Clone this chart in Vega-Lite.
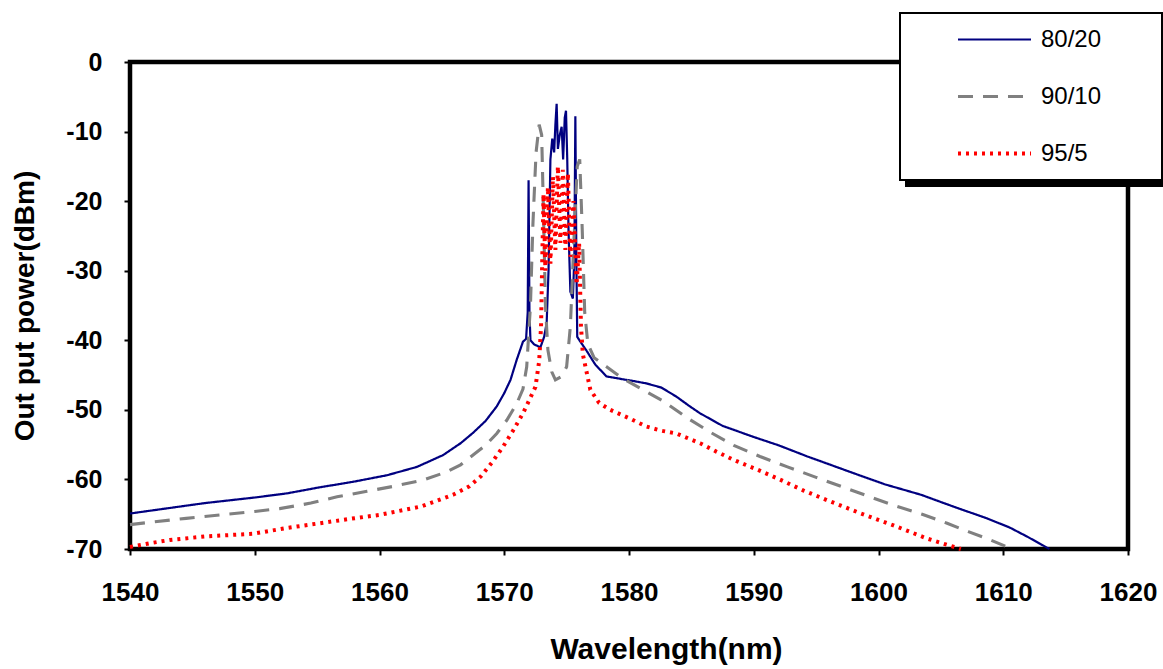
{
  "$schema": "https://vega.github.io/schema/vega-lite/v6.json",
  "width": 998,
  "height": 487,
  "autosize": {"type": "none"},
  "padding": {"left": 130, "top": 62, "right": 35, "bottom": 120},
  "background": "white",
  "config": {
    "font": "Liberation Sans",
    "view": {"stroke": "black", "strokeWidth": 4.5},
    "axis": {"domain": false, "grid": false, "tickColor": "black", "tickWidth": 2, "tickSize": 6, "labelColor": "black", "titleColor": "black", "labelFontWeight": "bold", "titleFontWeight": "bold"}
  },
  "data": {"values": [
    {"w":1540,"p":-64.9,"s":"80/20"},{"w":1542,"p":-64.4,"s":"80/20"},{"w":1544,"p":-63.9,"s":"80/20"},{"w":1546,"p":-63.4,"s":"80/20"},{"w":1548,"p":-63.0,"s":"80/20"},{"w":1550,"p":-62.6,"s":"80/20"},{"w":1552.6,"p":-62.0,"s":"80/20"},{"w":1555,"p":-61.2,"s":"80/20"},{"w":1558,"p":-60.3,"s":"80/20"},{"w":1560.6,"p":-59.4,"s":"80/20"},{"w":1563,"p":-58.2,"s":"80/20"},{"w":1565.1,"p":-56.5,"s":"80/20"},{"w":1566.5,"p":-54.8,"s":"80/20"},{"w":1567.5,"p":-53.3,"s":"80/20"},{"w":1568.5,"p":-51.6,"s":"80/20"},{"w":1569.4,"p":-49.5,"s":"80/20"},{"w":1570.0,"p":-47.6,"s":"80/20"},{"w":1570.5,"p":-45.7,"s":"80/20"},{"w":1571.0,"p":-42.8,"s":"80/20"},{"w":1571.5,"p":-40.2,"s":"80/20"},{"w":1571.75,"p":-39.8,"s":"80/20"},{"w":1571.88,"p":-36,"s":"80/20"},{"w":1571.95,"p":-17,"s":"80/20"},{"w":1572.02,"p":-36,"s":"80/20"},{"w":1572.1,"p":-40,"s":"80/20"},{"w":1572.4,"p":-40.6,"s":"80/20"},{"w":1572.9,"p":-41,"s":"80/20"},{"w":1573.2,"p":-39.5,"s":"80/20"},{"w":1573.4,"p":-37.5,"s":"80/20"},{"w":1573.55,"p":-30,"s":"80/20"},{"w":1573.7,"p":-14,"s":"80/20"},{"w":1573.85,"p":-11,"s":"80/20"},{"w":1574.0,"p":-13,"s":"80/20"},{"w":1574.1,"p":-9,"s":"80/20"},{"w":1574.2,"p":-6,"s":"80/20"},{"w":1574.3,"p":-12.5,"s":"80/20"},{"w":1574.45,"p":-10.5,"s":"80/20"},{"w":1574.6,"p":-9.3,"s":"80/20"},{"w":1574.72,"p":-14,"s":"80/20"},{"w":1574.85,"p":-8,"s":"80/20"},{"w":1574.95,"p":-7,"s":"80/20"},{"w":1575.05,"p":-14,"s":"80/20"},{"w":1575.15,"p":-24,"s":"80/20"},{"w":1575.3,"p":-33,"s":"80/20"},{"w":1575.5,"p":-34,"s":"80/20"},{"w":1575.62,"p":-28,"s":"80/20"},{"w":1575.7,"p":-7.8,"s":"80/20"},{"w":1575.78,"p":-28,"s":"80/20"},{"w":1575.85,"p":-39.5,"s":"80/20"},{"w":1576.1,"p":-40.2,"s":"80/20"},{"w":1576.6,"p":-41.5,"s":"80/20"},{"w":1577.3,"p":-43.5,"s":"80/20"},{"w":1578.2,"p":-45.2,"s":"80/20"},{"w":1579.5,"p":-45.6,"s":"80/20"},{"w":1580.5,"p":-45.9,"s":"80/20"},{"w":1581.4,"p":-46.2,"s":"80/20"},{"w":1582.6,"p":-46.8,"s":"80/20"},{"w":1583.8,"p":-48.1,"s":"80/20"},{"w":1584.8,"p":-49.4,"s":"80/20"},{"w":1585.7,"p":-50.5,"s":"80/20"},{"w":1587.5,"p":-52.3,"s":"80/20"},{"w":1590.0,"p":-53.9,"s":"80/20"},{"w":1592.0,"p":-55.1,"s":"80/20"},{"w":1594.3,"p":-56.7,"s":"80/20"},{"w":1596,"p":-57.8,"s":"80/20"},{"w":1598.0,"p":-59.1,"s":"80/20"},{"w":1600.5,"p":-60.7,"s":"80/20"},{"w":1603.4,"p":-62.2,"s":"80/20"},{"w":1606,"p":-63.9,"s":"80/20"},{"w":1608.7,"p":-65.6,"s":"80/20"},{"w":1610.5,"p":-66.9,"s":"80/20"},{"w":1611.9,"p":-68.2,"s":"80/20"},{"w":1613.0,"p":-69.3,"s":"80/20"},{"w":1613.7,"p":-70,"s":"80/20"},
    {"w":1540,"p":-66.5,"s":"90/10"},{"w":1541.9,"p":-66.1,"s":"90/10"},{"w":1544.5,"p":-65.6,"s":"90/10"},{"w":1547.2,"p":-65.1,"s":"90/10"},{"w":1550,"p":-64.6,"s":"90/10"},{"w":1552,"p":-64.2,"s":"90/10"},{"w":1554.5,"p":-63.4,"s":"90/10"},{"w":1556.6,"p":-62.5,"s":"90/10"},{"w":1559,"p":-61.7,"s":"90/10"},{"w":1561.1,"p":-61.0,"s":"90/10"},{"w":1563.5,"p":-60.1,"s":"90/10"},{"w":1565.4,"p":-58.9,"s":"90/10"},{"w":1566.5,"p":-57.9,"s":"90/10"},{"w":1567.5,"p":-56.5,"s":"90/10"},{"w":1568.5,"p":-55.1,"s":"90/10"},{"w":1569.4,"p":-53.4,"s":"90/10"},{"w":1570.2,"p":-51.5,"s":"90/10"},{"w":1571.0,"p":-49.1,"s":"90/10"},{"w":1571.5,"p":-47,"s":"90/10"},{"w":1571.8,"p":-43.8,"s":"90/10"},{"w":1572.1,"p":-35,"s":"90/10"},{"w":1572.3,"p":-23.2,"s":"90/10"},{"w":1572.55,"p":-13,"s":"90/10"},{"w":1572.8,"p":-9,"s":"90/10"},{"w":1573.0,"p":-10.5,"s":"90/10"},{"w":1573.15,"p":-22,"s":"90/10"},{"w":1573.3,"p":-35,"s":"90/10"},{"w":1573.5,"p":-41.4,"s":"90/10"},{"w":1573.8,"p":-44.5,"s":"90/10"},{"w":1574.1,"p":-45.7,"s":"90/10"},{"w":1574.6,"p":-45.2,"s":"90/10"},{"w":1575.0,"p":-43.8,"s":"90/10"},{"w":1575.3,"p":-38,"s":"90/10"},{"w":1575.6,"p":-25,"s":"90/10"},{"w":1575.85,"p":-15,"s":"90/10"},{"w":1576.05,"p":-14,"s":"90/10"},{"w":1576.25,"p":-24,"s":"90/10"},{"w":1576.45,"p":-36,"s":"90/10"},{"w":1576.7,"p":-40.5,"s":"90/10"},{"w":1577.2,"p":-42.5,"s":"90/10"},{"w":1578.2,"p":-43.8,"s":"90/10"},{"w":1579.5,"p":-45.5,"s":"90/10"},{"w":1580.9,"p":-46.9,"s":"90/10"},{"w":1582.8,"p":-48.8,"s":"90/10"},{"w":1584.7,"p":-51.2,"s":"90/10"},{"w":1586.5,"p":-53.2,"s":"90/10"},{"w":1588.4,"p":-55.1,"s":"90/10"},{"w":1590.5,"p":-56.7,"s":"90/10"},{"w":1592.7,"p":-58.2,"s":"90/10"},{"w":1595,"p":-59.7,"s":"90/10"},{"w":1597.0,"p":-61.0,"s":"90/10"},{"w":1599,"p":-62.3,"s":"90/10"},{"w":1601.2,"p":-63.7,"s":"90/10"},{"w":1603.5,"p":-65.0,"s":"90/10"},{"w":1605.5,"p":-66.3,"s":"90/10"},{"w":1607.2,"p":-67.5,"s":"90/10"},{"w":1608.7,"p":-68.5,"s":"90/10"},{"w":1610.3,"p":-69.7,"s":"90/10"},{"w":1610.7,"p":-70,"s":"90/10"},
    {"w":1540,"p":-69.7,"s":"95/5"},{"w":1541.5,"p":-69.2,"s":"95/5"},{"w":1543.2,"p":-68.7,"s":"95/5"},{"w":1546,"p":-68.2,"s":"95/5"},{"w":1549.9,"p":-67.8,"s":"95/5"},{"w":1552.5,"p":-67.0,"s":"95/5"},{"w":1555.2,"p":-66.3,"s":"95/5"},{"w":1557.5,"p":-65.7,"s":"95/5"},{"w":1560.0,"p":-65.1,"s":"95/5"},{"w":1563.3,"p":-63.9,"s":"95/5"},{"w":1565.9,"p":-62.2,"s":"95/5"},{"w":1567.2,"p":-61.0,"s":"95/5"},{"w":1568.1,"p":-59.6,"s":"95/5"},{"w":1569.0,"p":-57.6,"s":"95/5"},{"w":1569.9,"p":-55.3,"s":"95/5"},{"w":1570.7,"p":-53.0,"s":"95/5"},{"w":1571.5,"p":-50.5,"s":"95/5"},{"w":1572.0,"p":-48.6,"s":"95/5"},{"w":1572.5,"p":-46.7,"s":"95/5"},{"w":1572.8,"p":-43,"s":"95/5"},{"w":1572.95,"p":-38,"s":"95/5"},{"w":1573.05,"p":-28,"s":"95/5"},{"w":1573.15,"p":-19,"s":"95/5"},{"w":1573.3,"p":-30,"s":"95/5"},{"w":1573.5,"p":-18,"s":"95/5"},{"w":1573.7,"p":-29,"s":"95/5"},{"w":1573.9,"p":-16.5,"s":"95/5"},{"w":1574.1,"p":-27,"s":"95/5"},{"w":1574.3,"p":-15,"s":"95/5"},{"w":1574.5,"p":-26,"s":"95/5"},{"w":1574.7,"p":-15.5,"s":"95/5"},{"w":1574.9,"p":-27,"s":"95/5"},{"w":1575.1,"p":-16,"s":"95/5"},{"w":1575.3,"p":-28,"s":"95/5"},{"w":1575.55,"p":-20,"s":"95/5"},{"w":1575.8,"p":-32,"s":"95/5"},{"w":1576.0,"p":-26,"s":"95/5"},{"w":1576.15,"p":-38,"s":"95/5"},{"w":1576.3,"p":-42,"s":"95/5"},{"w":1576.9,"p":-47.1,"s":"95/5"},{"w":1577.6,"p":-49,"s":"95/5"},{"w":1578.5,"p":-50,"s":"95/5"},{"w":1580,"p":-51.2,"s":"95/5"},{"w":1581.4,"p":-52.4,"s":"95/5"},{"w":1582.6,"p":-53.0,"s":"95/5"},{"w":1583.8,"p":-53.4,"s":"95/5"},{"w":1585.7,"p":-54.8,"s":"95/5"},{"w":1587,"p":-56.0,"s":"95/5"},{"w":1588.4,"p":-57.2,"s":"95/5"},{"w":1590.3,"p":-58.6,"s":"95/5"},{"w":1592.2,"p":-60.1,"s":"95/5"},{"w":1594,"p":-61.6,"s":"95/5"},{"w":1595.9,"p":-63.0,"s":"95/5"},{"w":1598.6,"p":-64.9,"s":"95/5"},{"w":1601.2,"p":-66.6,"s":"95/5"},{"w":1603.9,"p":-68.5,"s":"95/5"},{"w":1605.5,"p":-69.4,"s":"95/5"},{"w":1606.6,"p":-70,"s":"95/5"}
  ]},
  "mark": {"type": "line", "strokeCap": "butt", "strokeJoin": "miter"},
  "encoding": {
    "x": {"field": "w", "type": "quantitative", "scale": {"domain": [1540, 1620], "nice": false, "zero": false},
      "axis": {"values": [1540,1550,1560,1570,1580,1590,1600,1610,1620], "labelExpr": "'' + datum.value", "labelFontSize": 26, "labelPadding": 24, "title": "Wavelength(nm)", "titleFontSize": 30, "titlePadding": 29, "titleX": 536, "labelFlush": false}},
    "y": {"field": "p", "type": "quantitative", "scale": {"domain": [-70, 0], "nice": false, "zero": false},
      "axis": {"values": [0,-10,-20,-30,-40,-50,-60,-70], "labelExpr": "'' + datum.value", "labelFontSize": 25, "labelPadding": 22, "title": "Out put power(dBm)", "titleFontSize": 28, "titlePadding": 26}},
    "color": {"field": "s", "type": "nominal", "scale": {"domain": ["80/20","90/10","95/5"], "range": ["#000080","#808080","#ff0000"]},
      "legend": {"title": null, "orient": "none", "legendX": 770, "legendY": -49, "zindex": 2, "fillColor": "white", "strokeColor": "black", "padding": 14, "symbolType": "stroke", "symbolSize": 5329, "symbolOffset": 42, "labelOffset": 8, "labelFontSize": 24, "labelFontWeight": "normal", "labelColor": "black", "labelExpr": "datum.label + '\u00a0\u00a0\u00a0\u00a0\u00a0\u00a0\u00a0\u200b'", "clipHeight": 25, "rowPadding": 32,
        "encode": {"legend": {"update": {"strokeWidth": {"value": 2}}}}}},
    "strokeDash": {"field": "s", "type": "nominal", "scale": {"domain": ["80/20","90/10","95/5"], "range": [[1,0],[15,10],[3,5]]}},
    "strokeWidth": {"field": "s", "type": "nominal", "scale": {"domain": ["80/20","90/10","95/5"], "range": [2.2,4,3.2]}},
    "opacity": {"field": "s", "type": "nominal", "scale": {"range": [1,1,1]},
      "legend": {"title": null, "orient": "none", "legendX": 776, "legendY": -43, "zindex": 1, "fillColor": "black", "strokeColor": "black", "padding": 14, "symbolType": "stroke", "symbolSize": 5329, "symbolOffset": 148, "labelOffset": 8, "labelFontSize": 24, "labelFontWeight": "normal", "labelColor": "black", "symbolOpacity": 0, "labelExpr": "''", "clipHeight": 25, "rowPadding": 32,
        "encode": {"legend": {"update": {"strokeWidth": {"value": 2}}}}}}
  }
}
